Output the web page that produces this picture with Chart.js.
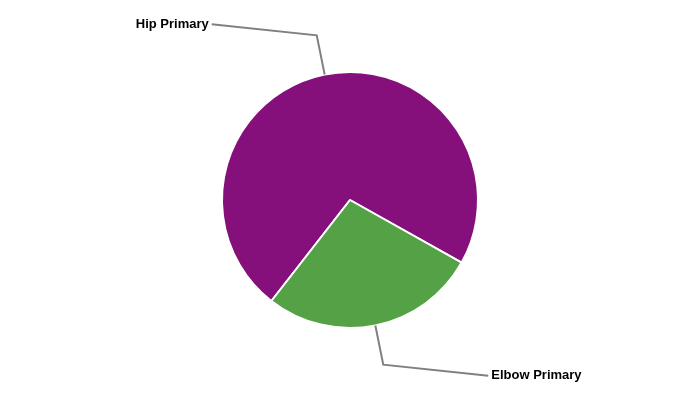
<!DOCTYPE html>
<html>
<head>
<meta charset="utf-8">
<script src="https://cdn.jsdelivr.net/npm/chart.js@4.4.8/dist/chart.umd.min.js"></script>
<style>
  html, body { margin: 0; padding: 0; background: #fff; }
  #wrap { width: 700px; height: 400px; }
</style>
</head>
<body>
<div id="wrap"><canvas id="myChart"></canvas></div>
<script>
  // values (share of total)
  const labels = ['Hip Primary', 'Elbow Primary'];
  const values = [72.6, 27.4];
  const colors = ['#85107B', '#55A145'];

  // leader lines + labels, drawn off each arc
  const leaderLabels = {
    id: 'leaderLabels',
    afterDatasetsDraw(chart) {
      const c = chart.ctx;
      const meta = chart.getDatasetMeta(0);
      c.save();
      c.font = 'bold 13px "Liberation Sans", Arial, sans-serif';
      c.textBaseline = 'middle';
      meta.data.forEach((arc, i) => {
        const mid = (arc.startAngle + arc.endAngle) / 2;
        const cos = Math.cos(mid), sin = Math.sin(mid);
        const dir = cos >= 0 ? 1 : -1;
        const r = arc.outerRadius;
        const x1 = arc.x + cos * r, y1 = arc.y + sin * r;
        const x2 = arc.x + cos * (r + 40), y2 = arc.y + sin * (r + 40);
        const x3 = x2 + dir * 105, y3 = y2 + dir * 11;
        c.strokeStyle = '#808080';
        c.lineWidth = 2;
        c.beginPath();
        c.moveTo(x1, y1);
        c.lineTo(x2, y2);
        c.lineTo(x3, y3);
        c.stroke();
        c.fillStyle = '#000';
        c.textAlign = dir > 0 ? 'left' : 'right';
        c.fillText(labels[i], x3 + dir * 3, y3);
      });
      c.restore();
    }
  };

  new Chart(document.getElementById('myChart'), {
    type: 'pie',
    data: {
      labels: labels,
      datasets: [{
        data: values,
        backgroundColor: colors,
        borderColor: '#ffffff',
        borderWidth: 2
      }]
    },
    options: {
      responsive: true,
      maintainAspectRatio: false,
      animation: false,
      rotation: 127.9 + 90,
      layout: { padding: { top: 71, bottom: 71 } },
      plugins: {
        legend: { display: false },
        tooltip: { enabled: false }
      }
    },
    plugins: [leaderLabels]
  });
</script>
</body>
</html>
